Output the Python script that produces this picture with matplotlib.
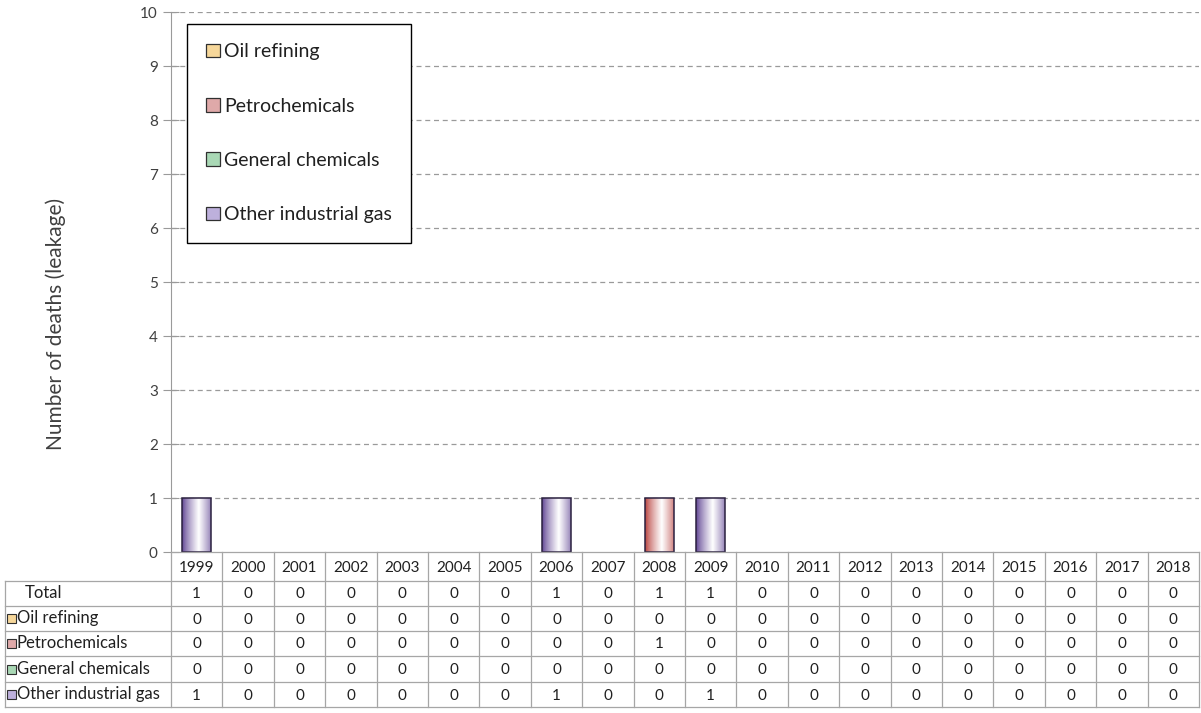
import numpy as np
import matplotlib
matplotlib.use("Agg")
import matplotlib.pyplot as plt
from matplotlib.patches import Rectangle, Patch
from matplotlib.colors import to_rgb

plt.rcParams['font.family'] = ['Lato', 'DejaVu Sans']

years = [str(y) for y in range(1999, 2019)]
series_names = ["Oil refining", "Petrochemicals", "General chemicals", "Other industrial gas"]
oil_refining      = [0, 0, 0, 0, 0, 0, 0, 0, 0, 0, 0, 0, 0, 0, 0, 0, 0, 0, 0, 0]
petrochemicals    = [0, 0, 0, 0, 0, 0, 0, 0, 0, 1, 0, 0, 0, 0, 0, 0, 0, 0, 0, 0]
general_chemicals = [0, 0, 0, 0, 0, 0, 0, 0, 0, 0, 0, 0, 0, 0, 0, 0, 0, 0, 0, 0]
other_gas         = [1, 0, 0, 0, 0, 0, 0, 1, 0, 0, 1, 0, 0, 0, 0, 0, 0, 0, 0, 0]
series_values = [oil_refining, petrochemicals, general_chemicals, other_gas]
totals = [sum(v) for v in zip(*series_values)]

dark_colors = ["#d9a33a", "#b8403c", "#3f9a58", "#5e4292"]
light_colors = ["#f6d79a", "#dfa9a9", "#a9d8b5", "#bdb0dc"]

W, H = 1201, 713
fig = plt.figure(figsize=(W / 100, H / 100), dpi=100)

def fx(px):
    return px / W

def fy(py):
    return 1 - py / H

ax_left, ax_right = 171, 1199
ax_top, ax_bot = 12, 552
ax = fig.add_axes([fx(ax_left), fy(ax_bot), fx(ax_right - ax_left), (ax_bot - ax_top) / H])
x = np.arange(len(years))
ax.set_xlim(-0.5, len(years) - 0.5)
ax.set_ylim(0, 10)

grid_col = "#9a9a9a"
ax.set_yticks(range(0, 11))
for yv in range(1, 11):
    ax.axhline(yv, color=grid_col, lw=0.9, ls=(0, (4, 3)), zorder=0)
for s in ["top", "right", "bottom"]:
    ax.spines[s].set_visible(False)
ax.spines["left"].set_color(grid_col)
ax.tick_params(axis="y", direction="inout", length=11, color=grid_col, labelsize=11,
               labelcolor="#404040", pad=4)
ax.set_xticks([])
ax.set_ylabel("Number of deaths (leakage)", fontsize=15, color="#404040")
ax.yaxis.set_label_coords((66 - ax_left) / (ax_right - ax_left), (ax_bot - 324) / (ax_bot - ax_top))

def gradient_img(dark):
    d = np.array(to_rgb(dark))
    t = np.linspace(0, 1, 64)
    f = np.clip(1 - np.abs(t - 0.58) / 0.58, 0, 1) ** 0.8
    img = d[None, :] * (1 - f[:, None]) + np.ones(3)[None, :] * f[:, None]
    return img[None, :, :]

bottom = np.zeros(len(years))
bar_w = 0.56
for vals, dc in zip(series_values, dark_colors):
    vals = np.array(vals, dtype=float)
    bars = ax.bar(x, vals, bar_w, bottom=bottom, color="none", edgecolor="#2b2140",
                  lw=1.1, zorder=3)
    for b, v in zip(bars, vals):
        if v > 0:
            bx, by = b.get_x(), b.get_y()
            im = ax.imshow(gradient_img(dc), extent=[bx, bx + b.get_width(), by, by + b.get_height()],
                           aspect="auto", zorder=2, interpolation="bilinear")
            im.set_clip_path(b)
        else:
            b.set_visible(False)
    bottom += vals

# legend
handles = [Patch(facecolor=lc, edgecolor="#303030", lw=0.9) for lc in light_colors]
leg = ax.legend(handles, series_names, loc="upper left",
                bbox_to_anchor=((187 - ax_left) / (ax_right - ax_left), (ax_bot - 24) / (ax_bot - ax_top)),
                borderaxespad=0, fontsize=14, labelspacing=1.92, handlelength=0.7,
                handleheight=0.7, handletextpad=0.2, borderpad=1.0, fancybox=False,
                framealpha=1, edgecolor="#000000")
leg.get_frame().set_linewidth(1.0)
for t in leg.get_texts():
    t.set_color("#202020")

# table
tab_top, tab_bot = 552, 707
tax = fig.add_axes([fx(ax_left), fy(tab_bot), fx(ax_right - ax_left), (tab_bot - tab_top) / H])
tax.set_xlim(-0.5, len(years) - 0.5)
tax.set_ylim(tab_bot - tab_top, 0)
tax.axis("off")
row_edges = [0, 29, 54, 79, 104, 130, 155]
col_w = (ax_right - ax_left) / len(years)
label_left = -0.5 - (ax_left - 5) / col_w
line_col = "#a6a6a6"
txt_col = "#202020"
tfs = 11
lfs = 12

for i, ye in enumerate(row_edges):
    x0 = -0.5 if i == 0 else label_left
    tax.plot([x0, len(years) - 0.5], [ye, ye], color=line_col, lw=0.9, clip_on=False)
for j in range(len(years) + 1):
    tax.plot([j - 0.5, j - 0.5], [0, row_edges[-1]], color=line_col, lw=0.9, clip_on=False)
tax.plot([label_left, label_left], [row_edges[1], row_edges[-1]], color=line_col, lw=0.9, clip_on=False)

for j, yr in enumerate(years):
    tax.text(j, (row_edges[0] + row_edges[1]) / 2 + 1, yr, ha="center", va="center",
             fontsize=tfs, color=txt_col)

rows = [("Total", totals, None)] + [(n, v, c) for n, v, c in zip(series_names, series_values, light_colors)]
for i, (name, vals, col) in enumerate(rows):
    yc = (row_edges[i + 1] + row_edges[i + 2]) / 2
    if col is None:
        tax.text(label_left + 20 / col_w, yc, name, ha="left", va="center", fontsize=lfs,
                 color=txt_col, clip_on=False)
    else:
        sq = 9
        tax.add_patch(Rectangle((label_left + 2 / col_w, yc + sq / 2), 9 / col_w, -sq,
                                facecolor=col, edgecolor="#303030", lw=0.8, clip_on=False))
        tax.text(label_left + 12 / col_w, yc, name, ha="left", va="center", fontsize=lfs,
                 color=txt_col, clip_on=False)
    for j, v in enumerate(vals):
        tax.text(j, yc + 1, str(v), ha="center", va="center", fontsize=tfs, color=txt_col)

fig.savefig("out.png", dpi=100)
